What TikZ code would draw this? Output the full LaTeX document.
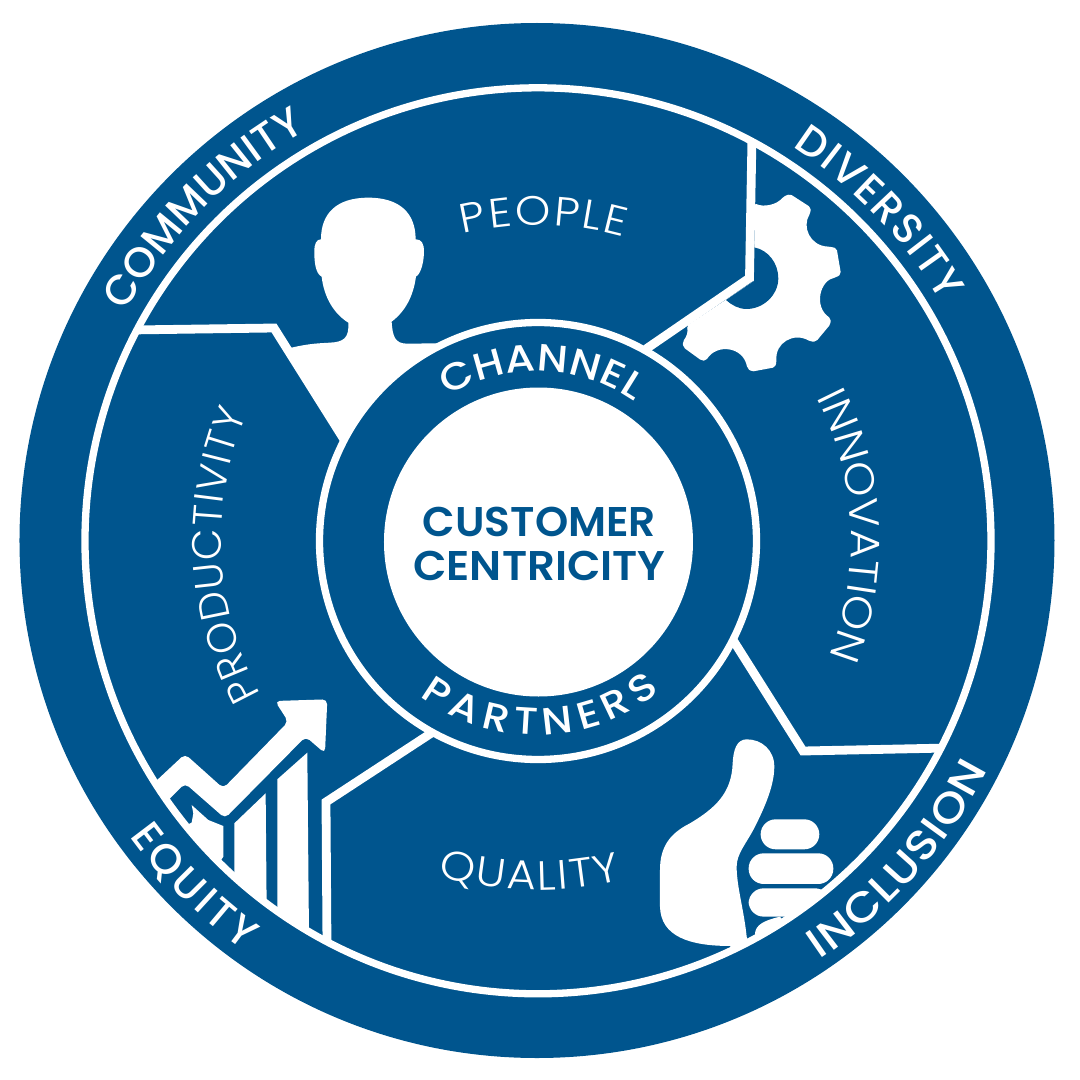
\documentclass[tikz,border=0pt]{standalone}
\usepackage{fontspec}
\usetikzlibrary{decorations.text}

\setmainfont{Poppins}
\newfontfamily\mediumfont{Poppins Medium}
\newfontfamily\widefont[FakeStretch=1.12]{Poppins Medium}
\newfontfamily\thinfont[FakeStretch=1.1]{Poppins Light}
\newfontfamily\narrowfont{Poppins Light}
\newfontfamily\hubfont[FakeStretch=1.05]{Poppins SemiBold}
\newfontfamily\hubtightfont[FakeStretch=1.02]{Poppins SemiBold}
\newcommand{\outerlabel}{\color{white}\mediumfont\fontsize{42}{42}\selectfont}
\newcommand{\outerwidelabel}{\color{white}\widefont\fontsize{42}{42}\selectfont}
\newcommand{\channellabel}{\color{white}\widefont\fontsize{38}{38}\selectfont}
\newcommand{\thinlabel}{\color{white}\thinfont\fontsize{41}{41}\selectfont}
\newcommand{\narrowlabel}{\color{white}\narrowfont\fontsize{41}{41}\selectfont}

\definecolor{wheelblue}{HTML}{00558E}

\tikzset{
    divider/.style={draw=white, line width=8.8},
    pixel/.style={shift={(-537,540)}, x=1pt, y=-1pt},
    curved/.style n args={2}{decorate, decoration={text along path, text align=fit to path, text={|#1|#2}}},
    hub/.style={text=wheelblue, anchor=base, inner sep=0pt}
}

\begin{document}
\begin{tikzpicture}[x=1pt, y=1pt]

    \useasboundingbox (-537,-540) rectangle (543,540);

    % Outer disc
    \fill[wheelblue] (0,-0.5) circle (517.5);

    % Corners of the dividers
    \begin{scope}[pixel]
        \coordinate (peopleA) at (130,330);
        \coordinate (peopleB) at (274,328);
        \coordinate (peopleC) at (350,449);
        \coordinate (gearA) at (752,137);
        \coordinate (gearB) at (749.5,278);
        \coordinate (gearC) at (646,349);
        \coordinate (thumbA) at (733,640);
        \coordinate (thumbB) at (803,751);
        \coordinate (thumbC) at (948,748);
        \coordinate (chartA) at (433,732);
        \coordinate (chartB) at (326,802);
        \coordinate (chartC) at (327,945);
    \end{scope}

    % Icons and dividers stay inside the big ring
    \begin{scope}
        \clip (1,-0.8) circle (453);

        % Person
        \begin{scope}[shift={(-417,360)}, x=0.3333pt, y=-0.3333pt]
            \fill[white] (505,500) -- (515,503) .. controls (570,490) and (600,490) .. (630,488)
                .. controls (670,486) and (688,475) .. (685,428)
                .. controls (640,400) and (612,350) .. (605,290)
                .. controls (585,280) and (583,240) .. (583,215)
                .. controls (583,190) and (590,178) .. (603,178)
                .. controls (603,100) and (650,53) .. (745,53)
                .. controls (840,53) and (887,100) .. (887,178)
                .. controls (905,178) and (912,190) .. (912,215)
                .. controls (912,240) and (905,280) .. (888,290)
                .. controls (880,350) and (855,395) .. (815,425)
                .. controls (818,470) and (825,490) .. (860,491)
                -- (960,490) -- (800,800) -- (660,780) -- cycle;
        \end{scope}

        % Gear
        \begin{scope}[shift={(83,420)}, x=0.3333pt, y=-0.3333pt]
            \fill[white, rounded corners=2pt] (405,250) .. controls (430,262) and (470,255) .. (490,230)
                -- (510,222) -- (572,262) -- (572,278)
                .. controls (545,320) and (570,378) .. (630,380)
                -- (650,385) -- (663,462) -- (650,472)
                .. controls (600,480) and (580,560) .. (632,595)
                -- (632,612) -- (588,665) -- (572,665)
                .. controls (520,635) and (465,670) .. (470,725)
                -- (465,742) -- (395,755) -- (382,745)
                .. controls (370,680) and (290,670) .. (258,722)
                -- (245,722) -- (190,682) -- (188,665)
                .. controls (200,650) and (205,635) .. (200,618)
                -- (402,483) -- cycle;
            \fill[wheelblue] (402,382) .. controls (445,390) and (475,430) .. (475,475)
                .. controls (475,525) and (430,567) .. (380,567)
                .. controls (355,567) and (335,555) .. (318,540)
                -- (402,483) -- cycle;
        \end{scope}

        % Chart with its arrow
        \begin{scope}[shift={(-407,-140)}, x=0.3333pt, y=-0.3333pt]
            \fill[white, rounded corners=5pt] (60,320) -- (165,222) -- (280,325) -- (475,125) -- (435,63) -- (592,58) -- (585,220) -- (527,170) -- (285,415) -- (165,310) -- (125,350) -- (100,375) -- cycle;
            \fill[white] (185,375) -- (235,420) -- (280,438) -- (280,530) -- (260,560) -- (160,440) -- (185,428) -- (190,400) -- cycle;
            \fill[white] (313,430) -- (407,340) -- (410,680) -- (313,600) -- cycle;
            \fill[white] (442,298) -- (532,218) -- (537,760) -- (442,700) -- cycle;
        \end{scope}

        % Thumb
        \begin{scope}[shift={(103,-80)}, x=0.3333pt, y=-0.3333pt]
            \fill[white] (320,950) .. controls (312,870) and (290,800) .. (290,740)
                .. controls (290,700) and (320,670) .. (345,620)
                .. controls (370,570) and (403,500) .. (403,440)
                .. controls (403,390) and (365,358) .. (320,358)
                .. controls (290,358) and (280,390) .. (278,430)
                .. controls (275,520) and (225,565) .. (150,610)
                .. controls (90,640) and (60,680) .. (60,750)
                -- (60,860)
                .. controls (62,950) and (150,978) .. (270,978)
                -- (290,1000) -- (330,980) -- cycle;
            \fill[white, rounded corners=15pt] (362,598) rectangle (538,688);
            \fill[white, rounded corners=15pt] (326,700) rectangle (580,792);
            \fill[white, rounded corners=15pt] (326,805) rectangle (570,890);
            \fill[white] (345,940) .. controls (348,915) and (370,902) .. (420,890) -- (450,930) -- (360,970) -- cycle;
        \end{scope}

        % Dividers
        \draw[divider] (peopleA) -- (peopleB) -- (peopleC);
        \draw[divider] (gearA) -- (gearB) -- (gearC);
        \draw[divider] (thumbA) -- (thumbB) -- (thumbC);
        \draw[divider] (chartA) -- (chartB) -- (chartC);
    \end{scope}

    % Big ring, inner ring and hub
    \draw[white, line width=7.3] (1,-0.8) circle (453);
    \draw[white, line width=7.3, fill=wheelblue] (1,-1) circle (218.5);
    \fill[white] (1.5,-2) circle (154.5);

    % Labels on the outer band
    \path[curved={\outerlabel}{COMMUNITY}] (151:470) arc (151:119.5:470);
    \path[curved={\outerlabel}{DIVERSITY}] (57:469) arc (57:30.5:469);
    \path[curved={\outerwidelabel}{INCLUSION}] (-56:506) arc (-56:-27:506);
    \path[curved={\outerlabel}{EQUITY}] (216:504) arc (216:234.5:504);

    % Labels around the hub
    \path[curved={\channellabel}{CHANNEL}] (122:169) arc (122:55:169);
    \path[curved={\channellabel}{PARTNERS}] (233:195) arc (233:309:195);

    % Labels in the sectors
    \path[curved={\thinlabel}{PEOPLE}] (103.6:315) arc (103.6:74:315);
    \path[curved={\narrowlabel}{PRODUCTIVITY}] (209.2:316) arc (209.2:156.5:316);
    \path[curved={\thinlabel}{INNOVATION}] (27:314) arc (27:-19:314);
    \path[curved={\thinlabel}{QUALITY}] (253.5:350) arc (253.5:284:350);

    % Hub text
    \node[hub, font=\hubtightfont\fontsize{41.5}{41.5}\selectfont] (customer) at (2.5,3.3) {CUSTOMER};
    \node[hub, font=\hubfont\fontsize{41.5}{41.5}\selectfont] (centricity) at (2.5,-40) {CENTRICITY};

\end{tikzpicture}
\end{document}
